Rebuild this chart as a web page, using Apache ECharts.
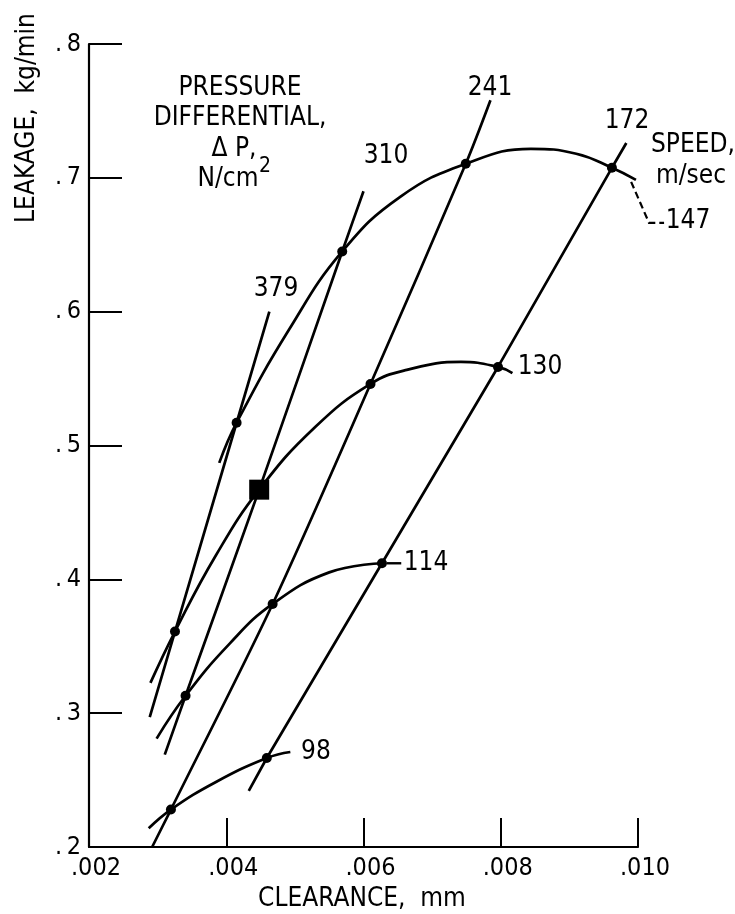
<!DOCTYPE html>
<html><head><meta charset="utf-8">
<script src="https://cdn.jsdelivr.net/npm/echarts@6/dist/echarts.min.js"></script>
<style>html,body{margin:0;padding:0;background:#fff}#c{width:735px;height:914px}</style>
</head><body><div id="c"></div>
<script>
// ---- axis ticks ----
const xTicks = [0.002, 0.004, 0.006, 0.008, 0.010];
const yTicks = [0.2, 0.3, 0.4, 0.5, 0.6, 0.7, 0.8];

// ---- pressure differential lines (N/cm^2) ----
const dp379 = [[0.002885,0.297],[0.003253,0.361],[0.004151,0.517],[0.004628,0.600]];
const dp310 = [[0.003104,0.269],[0.003407,0.313],[0.004480,0.467],[0.005690,0.645],[0.006000,0.690]];
const dp241 = [[0.00292,0.200],[0.003194,0.228],[0.004676,0.3816],[0.006102,0.546],[0.00749,0.7105],[0.00785,0.758]];
const dp172 = [[0.004328,0.242],[0.004591,0.2665],[0.006269,0.412],[0.00796,0.5587],[0.00962,0.7075],[0.00983,0.726]];

// ---- speed curves (m/sec) ----
const sp98  = [[0.00287,0.214],[0.003194,0.228],[0.00385,0.2486],[0.004591,0.2665],[0.004934,0.271]];
const sp114 = [[0.002985,0.281],[0.003407,0.313],[0.00405,0.352],[0.004676,0.3816],[0.00550,0.4052],[0.006269,0.412]];
const sp130 = [[0.002895,0.3226],[0.003253,0.361],[0.00385,0.418],[0.004480,0.467],[0.0053,0.514],[0.006102,0.546],[0.00663,0.5565],[0.00742,0.5625],[0.00796,0.5587],[0.00817,0.554]];
const sp147 = [[0.003898,0.487],[0.004151,0.517],[0.00492,0.587],[0.005690,0.645],[0.00654,0.686],[0.00749,0.7105],[0.00844,0.7217],[0.0091,0.718],[0.00962,0.7075],[0.00997,0.6985]];

// ---- intersection markers ----
const dots = [[0.003194,0.228],[0.004591,0.2665],[0.003407,0.313],[0.004676,0.3816],[0.006269,0.412],
  [0.003253,0.361],[0.006102,0.546],[0.00796,0.5587],[0.004151,0.517],[0.005690,0.645],[0.00749,0.7105],[0.00962,0.7075]];
const squarePt = [[0.004480,0.467]];

// ---- leaders (data coords) ----
const leader114 = [[0.00634,0.412],[0.00655,0.412]];
const leader147 = [[0.00990,0.697],[0.01016,0.6664],[0.01038,0.6664]];

// ---- texts ----
const pressureLabels = ['379','310','241','172'];
const speedLabels = ['98','114','130','147'];
const legendTitle = ['PRESSURE','DIFFERENTIAL,','\u0394 P,','N/cm'];
const speedTitle = ['SPEED,','m/sec'];

const FONT = '"DejaVu Sans Condensed","Liberation Sans Narrow",sans-serif';
const chart = echarts.init(document.getElementById('c'), null, {renderer:'canvas'});

const lineS = (d, sm) => ({type:'line', data:d, smooth:sm, showSymbol:false, symbol:'none', silent:true,
  lineStyle:{color:'#000', width:2.7}, z:3, clip:false});

let gid = 0;
function txt(t, x, y, size, align) {
  return {type:'text', id:'t'+(gid++), x:x, y:y, z:100, style:{text:t, fill:'#000', font:'400 '+size+'px '+FONT,
    textAlign:align||'center', textVerticalAlign:'middle', verticalAlign:'middle'}};
}

const option = {
  backgroundColor:'#fff',
  animation:false,
  grid:{left:89, right:97, top:44, bottom:67, containLabel:false},
  xAxis:{type:'value', min:0.002, max:0.010, interval:0.002,
    axisLine:{show:true, lineStyle:{color:'#000', width:2.2}},
    axisTick:{show:true, inside:true, length:29, lineStyle:{color:'#000', width:2}},
    splitLine:{show:false},
    axisLabel:{color:'#000', fontFamily:FONT, fontSize:25, margin:9, padding:[0,0,0,14],
      formatter:v => '.' + String(Math.round(v*1000)).padStart(3,'0')}},
  yAxis:{type:'value', min:0.2, max:0.8, interval:0.1,
    axisLine:{show:true, lineStyle:{color:'#000', width:2.2}},
    axisTick:{show:true, inside:true, length:33, lineStyle:{color:'#000', width:2}},
    splitLine:{show:false},
    axisLabel:{color:'#000', fontFamily:FONT, fontSize:25, margin:8,
      formatter:v => '.\u2009' + Math.round(v*10)}},
  series:[
    lineS(dp379, 0), lineS(dp310, 0.2), lineS(dp241, 0.3), lineS(dp172, 0),
    lineS(sp98, 0.45), lineS(sp114, 0.45), lineS(sp130, 0.45), lineS(sp147, 0.45),
    {type:'scatter', data:dots, symbol:'circle', symbolSize:10, itemStyle:{color:'#000', opacity:1}, z:5},
    {type:'scatter', data:squarePt, symbol:'rect', symbolSize:20, itemStyle:{color:'#000', opacity:1}, z:5}
  ],
  graphic:[
    {type:'text', id:'yname', x:27, y:118, rotation:Math.PI/2, z:100, style:{text:'LEAKAGE,  kg/min', fill:'#000',
      font:'400 26px '+FONT, textAlign:'center', textVerticalAlign:'middle', verticalAlign:'middle'}},
    txt('CLEARANCE,  mm', 362, 899, 26),
    txt(legendTitle[0], 240, 88, 26),
    txt(legendTitle[1], 240, 118, 26),
    txt(legendTitle[2], 234, 149, 26),
    txt(legendTitle[3], 228, 179, 26),
    txt('2', 265, 167, 21),
    txt(pressureLabels[0], 276, 289, 26),
    txt(pressureLabels[1], 386, 156, 26),
    txt(pressureLabels[2], 490, 88, 26),
    txt(pressureLabels[3], 627, 121, 26),
    txt(speedTitle[0], 651, 145, 26, 'left'),
    txt(speedTitle[1], 691, 176, 26),
    txt(speedLabels[0], 316, 752, 26),
    txt(speedLabels[1], 426, 563, 26),
    txt(speedLabels[2], 540, 367, 26),
    txt(speedLabels[3], 688, 221, 26)
  ]
};
chart.setOption(option);

// leader lines drawn through the chart's own coordinate system
const toPx = pts => pts.map(p => chart.convertToPixel({gridIndex:0}, p));
const g = option.graphic.slice();
g.push({type:'polyline', id:'lead114', z:90, shape:{points:toPx(leader114)}, style:{stroke:'#000', lineWidth:2.4, fill:null}});
g.push({type:'polyline', id:'lead147', z:90, shape:{points:toPx(leader147)}, style:{stroke:'#000', lineWidth:2.2, fill:null, lineDash:[7,4]}});
chart.setOption({graphic:g});
</script></body></html>
